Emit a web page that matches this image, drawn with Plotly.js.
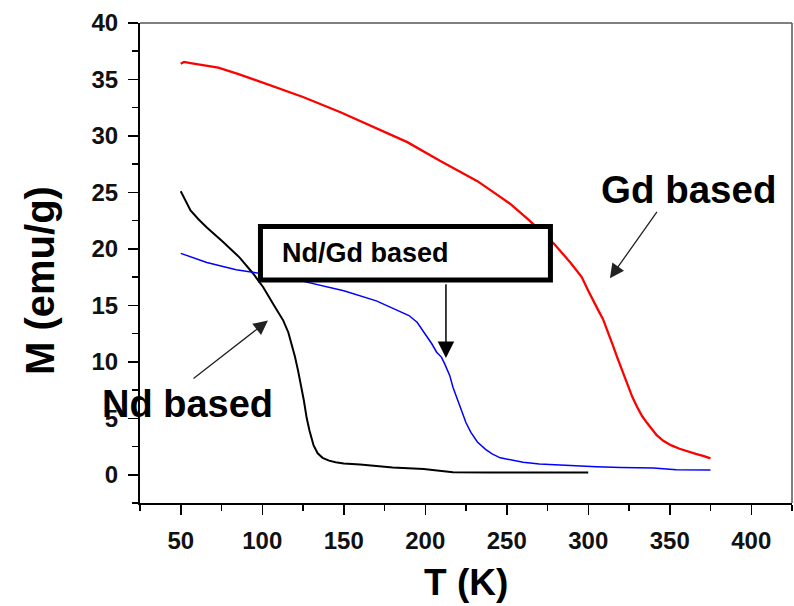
<!DOCTYPE html>
<html>
<head>
<meta charset="utf-8">
<script src="https://cdn.plot.ly/plotly-3.0.1.min.js"></script>
<style>html,body{margin:0;padding:0;background:#fff;}#chart{width:794px;height:606px;}</style>
</head>
<body>
<div id="chart"></div>
<script>
// Gd based (red)
const gdT = [50, 52, 56, 62, 73, 85, 103, 125, 148, 168, 189, 209, 222, 232, 242, 252, 264, 279, 289, 296, 300, 303, 306, 309, 312, 315, 318, 321, 324, 327, 330, 333, 336, 339, 342, 346, 351, 356, 361, 366, 371, 375];
const gdM = [36.4, 36.55, 36.45, 36.3, 36.05, 35.5, 34.6, 33.45, 32.1, 30.8, 29.45, 27.8, 26.8, 26.0, 25.0, 24.0, 22.5, 20.45, 18.8, 17.5, 16.3, 15.4, 14.6, 13.8, 12.7, 11.5, 10.3, 9.2, 8.0, 6.9, 6.0, 5.2, 4.6, 4.0, 3.5, 3.0, 2.6, 2.3, 2.05, 1.85, 1.65, 1.45];
// Nd/Gd based (blue)
const ndgdT = [50, 55, 66, 84, 97, 110, 120, 131, 150, 170, 184, 190, 195, 201, 204, 207, 210, 212, 215, 217, 220, 222, 225, 228, 232, 237, 241, 246, 252, 260, 270, 279, 290, 305, 320, 340, 354, 365, 375];
const ndgdM = [19.6, 19.35, 18.8, 18.15, 17.9, 17.6, 17.3, 16.95, 16.3, 15.4, 14.5, 14.1, 13.5, 12.3, 11.6, 10.85, 10.4, 9.8, 8.8, 7.75, 6.5, 5.7, 4.6, 3.75, 2.9, 2.25, 1.85, 1.5, 1.3, 1.1, 0.95, 0.88, 0.8, 0.72, 0.65, 0.6, 0.45, 0.42, 0.42];
// Nd based (black)
const ndT = [50, 52, 54, 56, 61, 66, 76, 86, 94.5, 100.6, 106.8, 112.9, 116, 118, 120, 122, 124, 125.5, 127.3, 129, 131.5, 134, 137, 141, 145, 150, 160, 180, 199, 210, 217, 240, 270, 300];
const ndM = [25.1, 24.5, 23.9, 23.4, 22.6, 21.9, 20.6, 19.25, 17.8, 16.6, 15.1, 13.65, 12.6, 11.6, 10.5, 9.2, 7.8, 6.6, 5.0, 3.9, 2.6, 1.9, 1.5, 1.25, 1.1, 1.0, 0.9, 0.65, 0.5, 0.35, 0.22, 0.2, 0.2, 0.2];

const xTicks = [50, 100, 150, 200, 250, 300, 350, 400];
const yTicks = [0, 5, 10, 15, 20, 25, 30, 35, 40];

const FONT = 'Liberation Sans, Arial, sans-serif';

const traces = [
  {x: ndT, y: ndM, mode: 'lines', line: {color: '#000000', width: 2}, name: 'Nd based'},
  {x: ndgdT, y: ndgdM, mode: 'lines', line: {color: '#0000ff', width: 1.5}, name: 'Nd/Gd based'},
  {x: gdT, y: gdM, mode: 'lines', line: {color: '#ff0000', width: 2.3}, name: 'Gd based'}
];

const axCommon = {
  showgrid: false, zeroline: false, showline: true, linecolor: '#000', linewidth: 2,
  ticks: 'outside', ticklen: 10, tickwidth: 1.5, tickcolor: '#000',
  tickfont: {family: FONT, size: 24, color: '#111', weight: 'bold'},
  ticklabelstandoff: 5
};

const layout = {
  width: 794, height: 606,
  margin: {l: 140, r: 2, t: 23, b: 103},
  paper_bgcolor: '#fff', plot_bgcolor: '#fff',
  showlegend: false,
  xaxis: Object.assign({}, axCommon, {
    range: [25, 425], tickmode: 'array', tickvals: xTicks, ticktext: xTicks.map(String),
    minor: {dtick: 25, tick0: 0, ticks: 'outside', ticklen: 6, tickwidth: 1.5, tickcolor: '#000'}
  }),
  yaxis: Object.assign({}, axCommon, {
    range: [-2.5, 40], tickmode: 'array', tickvals: yTicks, ticktext: yTicks.map(String),
    minor: {dtick: 2.5, tick0: 0, ticks: 'outside', ticklen: 6, tickwidth: 1.5, tickcolor: '#000'}
  }),
  shapes: [
    {type: 'line', xref: 'paper', yref: 'paper', x0: 0, x1: 1, y0: 1, y1: 1, line: {color: '#555', width: 1.5}},
    {type: 'line', xref: 'paper', yref: 'paper', x0: 1, x1: 1, y0: 0, y1: 1, line: {color: '#555', width: 1.5}},
    {type: 'rect', xref: 'x', yref: 'y', x0: 98.9, x1: 276.8, y0: 17.24, y1: 21.99,
     fillcolor: '#fff', line: {color: '#000', width: 5}, layer: 'above'}
  ],
  annotations: [
    {xref: 'paper', yref: 'paper', x: -0.1534, y: 0.4646, text: 'M (emu/g)', textangle: -90, showarrow: false,
     xanchor: 'center', yanchor: 'middle', font: {family: FONT, size: 40, color: '#000', weight: 'bold'}},
    {xref: 'paper', yref: 'paper', x: 0.5, y: -0.165, text: 'T (K)', showarrow: false,
     xanchor: 'center', yanchor: 'middle', font: {family: FONT, size: 37, color: '#000', weight: 'bold'}},
    {xref: 'x', yref: 'y', x: 361.2, y: 25.3, text: 'Gd based', showarrow: false,
     xanchor: 'center', yanchor: 'middle', font: {family: FONT, size: 38.5, color: '#000', weight: 'bold'}},
    {xref: 'x', yref: 'y', x: 54.1, y: 6.3, text: 'Nd based', showarrow: false,
     xanchor: 'center', yanchor: 'middle', font: {family: FONT, size: 38, color: '#000', weight: 'bold'}},
    {xref: 'x', yref: 'y', x: 110.9, y: 19.68, text: 'Nd/Gd based', showarrow: false,
     xanchor: 'left', yanchor: 'middle', font: {family: FONT, size: 27, color: '#000', weight: 'bold'}},
    {xref: 'x', yref: 'y', axref: 'x', ayref: 'y', x: 313.3, y: 17.4, ax: 342.8, ay: 23.4, text: '',
     showarrow: true, arrowhead: 2, arrowsize: 2.2, arrowwidth: 1.3, arrowcolor: '#222'},
    {xref: 'x', yref: 'y', axref: 'x', ayref: 'y', x: 103.5, y: 13.65, ax: 56.9, ay: 8.42, text: '',
     showarrow: true, arrowhead: 2, arrowsize: 2.2, arrowwidth: 1.3, arrowcolor: '#222'},
    {xref: 'x', yref: 'y', axref: 'x', ayref: 'y', x: 212.7, y: 10.33, ax: 212.7, ay: 17.0, text: '',
     showarrow: true, arrowhead: 2, arrowsize: 2.2, arrowwidth: 1.5, arrowcolor: '#000'}
  ]
};

Plotly.newPlot('chart', traces, layout, {displayModeBar: false, staticPlot: true});
</script>
</body>
</html>
